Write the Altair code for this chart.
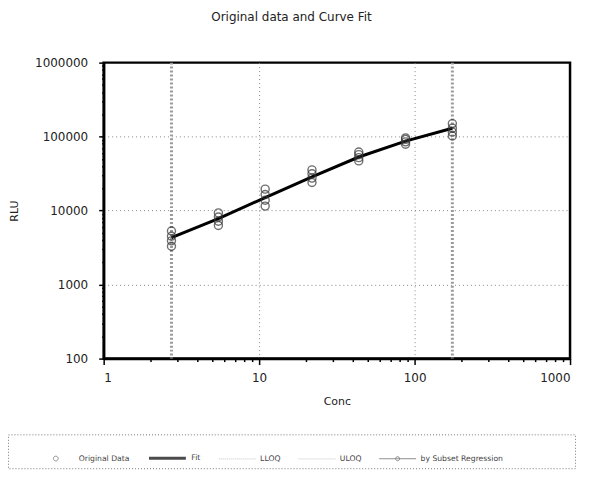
import altair as alt
import pandas as pd

# Concentrations (2-fold serial dilution)
conc = [2.73, 5.47, 10.94, 21.88, 43.75, 87.5, 175.0]
# Replicate RLU readings at each concentration
rep1 = [3300, 6300, 11500, 24000, 47000, 79000, 102000]
rep2 = [3900, 7200, 13800, 27500, 52000, 85000, 115000]
rep3 = [4500, 8200, 16500, 31500, 57000, 92000, 130000]
rep4 = [5300, 9300, 19500, 35500, 62000, 96000, 150000]
# Fitted curve values
fit = [4300, 7800, 15000, 28500, 53000, 87000, 130000]
# Limits of quantification
lloq = conc[0]
uloq = conc[-1]

series = ["Original Data", "Fit", "LLOQ", "ULOQ", "by Subset Regression"]
x_ticks = [1, 2, 3, 4, 5, 6, 7, 8, 9, 10, 20, 30, 40, 50, 60, 70, 80, 90,
           100, 200, 300, 400, 500, 600, 700, 800, 900, 1000]
y_ticks = [100, 200, 300, 400, 500, 600, 700, 800, 900,
           1000, 2000, 3000, 4000, 5000, 6000, 7000, 8000, 9000,
           10000, 20000, 30000, 40000, 50000, 60000, 70000, 80000, 90000,
           100000, 200000, 300000, 400000, 500000, 600000, 700000, 800000, 900000,
           1000000]
x_major = [1, 10, 100, 1000]
y_major = [100, 1000, 10000, 100000, 1000000]

pts = pd.DataFrame({
    "conc": conc * 4,
    "rlu": rep1 + rep2 + rep3 + rep4,
})
fit_df = pd.DataFrame({"conc": conc, "rlu": fit})
lim_df = pd.DataFrame({"conc": [lloq, uloq], "name": ["LLOQ", "ULOQ"]})
leg_df = pd.DataFrame({"series": series, "conc": [1.0] * 5, "rlu": [None] * 5})

FONT = "DejaVu Sans"

def major_test(vals):
    return "indexof(%s, datum.value) >= 0" % str(vals)

xscale = alt.Scale(type="log", domain=[1, 1000], nice=False)
yscale = alt.Scale(type="log", domain=[100, 1000000], nice=False)

xaxis = alt.Axis(
    title="Conc", values=x_ticks, format="d",
    labelExpr="%s ? datum.label : ''" % major_test(x_major),
    tickSize={"condition": {"test": major_test(x_major), "value": 6}, "value": 3},
    gridOpacity={"condition": {"test": major_test([10, 100]), "value": 1}, "value": 0},
    labelPadding=8, titlePadding=12,
)
yaxis = alt.Axis(
    title="RLU", values=y_ticks, format="d",
    labelExpr="%s ? datum.label : ''" % major_test(y_major),
    tickSize={"condition": {"test": major_test(y_major), "value": 5}, "value": 2},
    gridOpacity={"condition": {"test": major_test([1000, 10000, 100000]), "value": 1}, "value": 0},
    labelPadding=11, titlePadding=15,
)

base_x = alt.X("conc:Q", scale=xscale, axis=xaxis)
base_y = alt.Y("rlu:Q", scale=yscale, axis=yaxis)

lines_leg = "M-1,0H1"
circle_leg = "M-0.13,0a0.13,0.13 0 1,0 0.26,0a0.13,0.13 0 1,0 -0.26,0"
combo_leg = "M-1,0H1M-0.11,0a0.11,0.11 0 1,0 0.22,0a0.11,0.11 0 1,0 -0.22,0"
leg_title = "\u2800"
last_pad = "\u2800" * 12

leg_labels = "datum.label == 'by Subset Regression' ? datum.label + '%s' : datum.label" % last_pad

legend_layer = alt.Chart(leg_df).mark_point(filled=False).encode(
    x=alt.X("conc:Q", scale=xscale, axis=xaxis),
    y=alt.Y("rlu:Q", scale=yscale, axis=yaxis),
    color=alt.Color("series:N", title=leg_title,
                    scale=alt.Scale(domain=series,
                                    range=["#666666", "#000000", "#b0b0b0", "#b0b0b0", "#555555"]),
                    legend=alt.Legend(labelExpr=leg_labels)),
    shape=alt.Shape("series:N", title=leg_title,
                    scale=alt.Scale(domain=series,
                                    range=[circle_leg, lines_leg, lines_leg, lines_leg, combo_leg]),
                    legend=alt.Legend(labelExpr=leg_labels)),
    strokeWidth=alt.StrokeWidth("series:N", title=leg_title,
                                scale=alt.Scale(type="ordinal", domain=series,
                                                range=[1, 3, 1, 1, 1]),
                                legend=alt.Legend(labelExpr=leg_labels)),
    strokeDash=alt.StrokeDash("series:N", title=leg_title,
                              scale=alt.Scale(domain=series,
                                              range=[[1, 0], [1, 0], [1, 1], [1, 1], [1, 0]]),
                              legend=alt.Legend(labelExpr=leg_labels)),
)

lim_layer = alt.Chart(lim_df).mark_rule(color="#9a9a9a", strokeWidth=3, strokeDash=[2, 2]).encode(
    x=alt.X("conc:Q", scale=xscale, axis=xaxis),
)

fit_layer = alt.Chart(fit_df).mark_line(color="black", strokeWidth=3).encode(
    x=base_x, y=base_y,
)

pt_layer = alt.Chart(pts).mark_point(shape="circle", filled=False, color="#333333",
                                     strokeWidth=1.4, size=65).encode(
    x=base_x, y=base_y,
)

chart = alt.layer(lim_layer, fit_layer, pt_layer, legend_layer).properties(
    width=468, height=297,
    title=alt.TitleParams("Original data and Curve Fit", font=FONT, fontSize=12,
                          fontWeight="normal", color="#222222", offset=33,
                          frame="bounds"),
    autosize=alt.AutoSizeParams(type="none"),
    padding={"left": 96, "top": 54, "right": 11, "bottom": 118},
).configure_view(
    stroke="black", strokeWidth=2.5,
).configure_axis(
    domainColor="black", domainWidth=2.5,
    tickColor="black", tickWidth=1.5,
    gridColor="#888888", gridDash=[1, 3], gridWidth=1,
    labelFont=FONT, labelFontSize=12, labelColor="#222222",
    titleFont=FONT, titleFontSize=11, titleFontWeight="normal", titleColor="#222222",
).configure_legend(
    orient="none", legendX=-96, legendY=373, direction="horizontal",
    padding=4, columnPadding=13, symbolSize=1369, symbolOffset=4,
    titleOrient="left", titlePadding=15, titleFontSize=7, titleFont=FONT,
    labelFont=FONT, labelFontSize=7.7, labelColor="#444444",
    strokeColor="#777777", strokeDash=[1, 2], strokeWidth=1,
)

chart.save("out.html", embed_options={"renderer": "svg", "actions": False})
